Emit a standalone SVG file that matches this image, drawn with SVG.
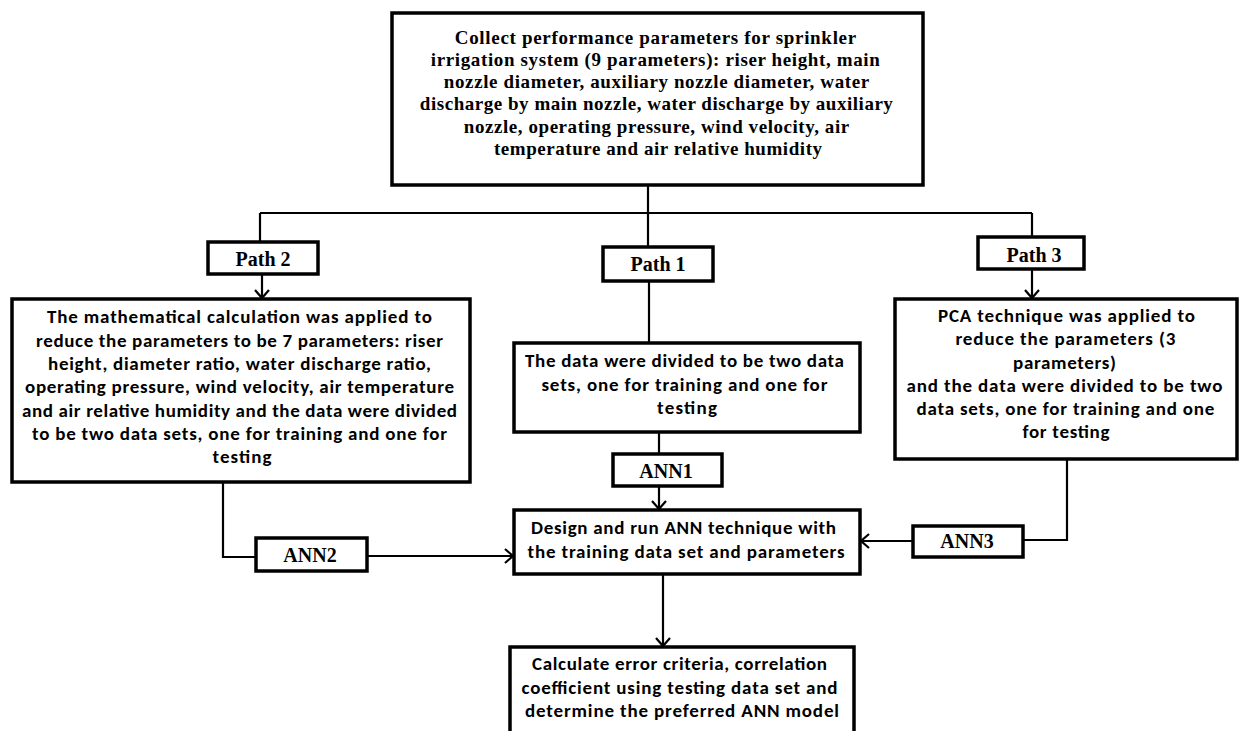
<svg xmlns="http://www.w3.org/2000/svg" width="1239" height="731" viewBox="0 0 1239 731">
<defs>
<marker id="arr" markerUnits="userSpaceOnUse" markerWidth="14" markerHeight="16" refX="11" refY="8" orient="auto">
<path d="M3,1 L11,8 L3,15" fill="none" stroke="#000" stroke-width="2.2"/>
</marker>
<style>
.box{fill:#fff;stroke:#000;stroke-width:3.5}
.lbl{fill:#fff;stroke:#000;stroke-width:3.5}
.serif{font-family:"Liberation Serif","Times New Roman",serif;font-weight:bold;font-size:19px;fill:#000}
.sans{font-family:Carlito,Lato,"Liberation Sans",sans-serif;font-weight:bold;font-size:19px;fill:#000}
.tag{font-family:"Liberation Serif","Times New Roman",serif;font-weight:bold;font-size:20px;fill:#000}
.c{fill:none;stroke:#000;stroke-width:2.2}
</style>
</defs>
<rect width="1239" height="731" fill="#fff"/>
<g id="connectors">
<path class="c" d="M648,185 V247"/>
<path class="c" d="M260,213 H1032"/>
<path class="c" d="M260,213 V242"/>
<path class="c" d="M1032,213 V238"/>
<path class="c" d="M262,274 V298" marker-end="url(#arr)"/>
<path class="c" d="M1032,269 V298" marker-end="url(#arr)"/>
<path class="c" d="M649,281 V343"/>
<path class="c" d="M659,432 V454"/>
<path class="c" d="M659,486 V509" marker-end="url(#arr)"/>
<path class="c" d="M223,482 V557 H256"/>
<path class="c" d="M367,556 H513" marker-end="url(#arr)"/>
<path class="c" d="M1067,459 V540 H1023"/>
<path class="c" d="M913,541 H861" marker-end="url(#arr)"/>
<path class="c" d="M663,574 V646" marker-end="url(#arr)"/>
</g>
<g id="collect">
<rect class="box" x="392" y="13" width="531" height="172"/>
<text class="serif" text-anchor="middle" lengthAdjust="spacingAndGlyphs">
<tspan x="658" y="44" textLength="401">Collect performance  parameters for sprinkler</tspan>
<tspan x="658" y="66" textLength="449">irrigation  system (9 parameters): riser height, main</tspan>
<tspan x="659" y="88" textLength="425">nozzle diameter, auxiliary nozzle diameter, water</tspan>
<tspan x="659" y="110" textLength="473">discharge by main nozzle, water discharge by auxiliary</tspan>
<tspan x="659" y="133" textLength="385">nozzle, operating pressure, wind velocity, air</tspan>
<tspan x="658" y="155" textLength="328">temperature  and air relative humidity</tspan>
</text>
</g>
<g id="path2">
<rect class="lbl" x="208" y="242" width="110" height="32"/>
<text class="tag" x="263" y="266" text-anchor="middle">Path 2</text>
</g>
<g id="path1">
<rect class="lbl" x="603" y="247" width="110" height="34"/>
<text class="tag" x="658" y="271" text-anchor="middle">Path 1</text>
</g>
<g id="path3">
<rect class="lbl" x="978" y="237" width="106" height="32"/>
<text class="tag" x="1034" y="262" text-anchor="middle">Path 3</text>
</g>
<g id="math">
<rect class="box" x="12" y="299" width="458" height="183"/>
<text class="sans" text-anchor="middle" lengthAdjust="spacingAndGlyphs">
<tspan x="242" y="323" textLength="385">The mathematical calculation  was applied to</tspan>
<tspan x="242" y="347" textLength="407">reduce the parameters to be 7 parameters: riser</tspan>
<tspan x="242" y="370" textLength="383">height, diameter ratio, water discharge ratio,</tspan>
<tspan x="242" y="393" textLength="429">operating pressure, wind velocity, air temperature</tspan>
<tspan x="242" y="417" textLength="435">and air relative humidity and the data were divided</tspan>
<tspan x="242" y="440" textLength="415">to be two data sets, one for  training and one for</tspan>
<tspan x="242" y="463" textLength="59">testing</tspan>
</text>
</g>
<g id="divide">
<rect class="box" x="514" y="343" width="346" height="89"/>
<text class="sans" text-anchor="middle" lengthAdjust="spacingAndGlyphs">
<tspan x="687" y="367" textLength="319">The data were divided to be two data</tspan>
<tspan x="687" y="391" textLength="286">sets, one for  training and one for</tspan>
<tspan x="687" y="414" textLength="60">testing</tspan>
</text>
</g>
<g id="pca">
<rect class="box" x="895" y="299" width="342" height="160"/>
<text class="sans" text-anchor="middle" lengthAdjust="spacingAndGlyphs">
<tspan x="1069" y="322" textLength="257">PCA  technique was applied to</tspan>
<tspan x="1068" y="345" textLength="220">reduce the parameters  (3</tspan>
<tspan x="1067" y="369" textLength="103">parameters)</tspan>
<tspan x="1067" y="392" textLength="316">and  the data were divided to be two</tspan>
<tspan x="1068" y="415" textLength="298">data sets, one for  training and one</tspan>
<tspan x="1066" y="438" textLength="87">for testing</tspan>
</text>
</g>
<g id="ann1">
<rect class="lbl" x="613" y="454" width="109" height="32"/>
<text class="tag" x="666" y="478" text-anchor="middle">ANN1</text>
</g>
<g id="ann2">
<rect class="lbl" x="256" y="538" width="111" height="33"/>
<text class="tag" x="310" y="562" text-anchor="middle">ANN2</text>
</g>
<g id="ann3">
<rect class="lbl" x="913" y="526" width="110" height="31"/>
<text class="tag" x="967" y="548" text-anchor="middle">ANN3</text>
</g>
<g id="design">
<rect class="box" x="514" y="510" width="346" height="64"/>
<text class="sans" text-anchor="middle" lengthAdjust="spacingAndGlyphs">
<tspan x="686" y="534" textLength="305">Design and run ANN technique with</tspan>
<tspan x="686" y="558" textLength="317">the training data set and  parameters</tspan>
</text>
</g>
<g id="calculate">
<rect class="box" x="510" y="647" width="344" height="110"/>
<text class="sans" text-anchor="middle" lengthAdjust="spacingAndGlyphs">
<tspan x="682" y="670" textLength="295">Calculate error criteria, correlation</tspan>
<tspan x="682" y="694" textLength="316">coefficient  using testing data set and</tspan>
<tspan x="682" y="717" textLength="314">determine the preferred  ANN model</tspan>
</text>
</g>
</svg>
